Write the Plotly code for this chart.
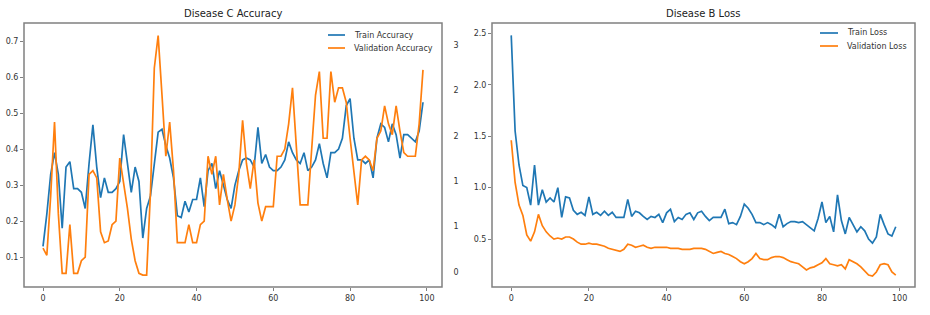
import plotly.graph_objects as go

epochs = list(range(100))

train_acc = [0.13, 0.22, 0.33, 0.39, 0.33, 0.18, 0.35, 0.365, 0.29, 0.29,
             0.28, 0.235, 0.36, 0.467, 0.35, 0.265, 0.32, 0.28, 0.28, 0.29,
             0.31, 0.44, 0.36, 0.28, 0.35, 0.31, 0.153, 0.235, 0.27, 0.36,
             0.447, 0.455, 0.41, 0.375, 0.32, 0.215, 0.21, 0.255, 0.225, 0.26,
             0.26, 0.32, 0.24, 0.34, 0.36, 0.29, 0.34, 0.30, 0.26, 0.235,
             0.30, 0.34, 0.37, 0.375, 0.37, 0.35, 0.46, 0.36, 0.385, 0.35,
             0.34, 0.34, 0.35, 0.37, 0.42, 0.39, 0.37, 0.36, 0.39, 0.34,
             0.35, 0.37, 0.415, 0.36, 0.32, 0.39, 0.39, 0.40, 0.43, 0.52,
             0.54, 0.43, 0.37, 0.37, 0.36, 0.37, 0.32, 0.43, 0.47, 0.46,
             0.42, 0.47, 0.44, 0.375, 0.44, 0.44, 0.43, 0.42, 0.45, 0.53]

val_acc = [0.125, 0.105, 0.27, 0.475, 0.22, 0.055, 0.055, 0.19, 0.055, 0.055,
           0.09, 0.10, 0.33, 0.34, 0.32, 0.17, 0.14, 0.145, 0.19, 0.20,
           0.375, 0.31, 0.235, 0.15, 0.09, 0.055, 0.05, 0.05, 0.28, 0.625,
           0.715, 0.55, 0.38, 0.475, 0.34, 0.14, 0.14, 0.14, 0.19, 0.14,
           0.14, 0.19, 0.20, 0.38, 0.33, 0.38, 0.245, 0.33, 0.26, 0.20,
           0.245, 0.33, 0.48, 0.36, 0.29, 0.37, 0.25, 0.20, 0.24, 0.24,
           0.24, 0.38, 0.38, 0.40, 0.47, 0.57, 0.42, 0.245, 0.245, 0.245,
           0.40, 0.55, 0.615, 0.43, 0.43, 0.615, 0.53, 0.57, 0.57, 0.53,
           0.43, 0.33, 0.245, 0.37, 0.38, 0.37, 0.34, 0.43, 0.45, 0.52,
           0.47, 0.44, 0.52, 0.45, 0.39, 0.38, 0.38, 0.38, 0.47, 0.62]

train_loss = [2.48, 1.55, 1.22, 1.02, 1.00, 0.83, 1.22, 0.83, 0.98, 0.86,
              0.90, 0.86, 1.00, 0.71, 0.91, 0.90, 0.78, 0.74, 0.76, 0.73,
              0.91, 0.74, 0.76, 0.73, 0.77, 0.73, 0.76, 0.71, 0.71, 0.71,
              0.886, 0.72, 0.77, 0.755, 0.72, 0.69, 0.72, 0.71, 0.74, 0.66,
              0.755, 0.79, 0.67, 0.71, 0.69, 0.74, 0.755, 0.69, 0.755, 0.77,
              0.72, 0.68, 0.71, 0.71, 0.71, 0.79, 0.65, 0.66, 0.64, 0.72,
              0.84, 0.80, 0.74, 0.66, 0.66, 0.64, 0.66, 0.64, 0.61, 0.74,
              0.62, 0.65, 0.67, 0.67, 0.66, 0.67, 0.64, 0.61, 0.58, 0.70,
              0.86, 0.66, 0.72, 0.57, 0.93, 0.68, 0.55, 0.71, 0.64, 0.57,
              0.62, 0.58, 0.50, 0.46, 0.52, 0.74, 0.64, 0.55, 0.53, 0.62]

val_loss = [1.46, 1.05, 0.83, 0.73, 0.54, 0.48, 0.57, 0.74, 0.63, 0.57,
            0.53, 0.50, 0.51, 0.50, 0.52, 0.52, 0.50, 0.47, 0.45, 0.45,
            0.46, 0.45, 0.45, 0.44, 0.43, 0.41, 0.40, 0.39, 0.38, 0.40,
            0.45, 0.44, 0.42, 0.43, 0.44, 0.42, 0.41, 0.42, 0.42, 0.42,
            0.42, 0.41, 0.41, 0.41, 0.40, 0.40, 0.40, 0.41, 0.41, 0.41,
            0.40, 0.38, 0.36, 0.37, 0.38, 0.36, 0.35, 0.33, 0.31, 0.28,
            0.26, 0.28, 0.31, 0.36, 0.31, 0.30, 0.30, 0.32, 0.33, 0.33,
            0.32, 0.30, 0.28, 0.27, 0.26, 0.23, 0.20, 0.22, 0.23, 0.25,
            0.27, 0.31, 0.26, 0.25, 0.24, 0.25, 0.21, 0.30, 0.28, 0.26,
            0.23, 0.19, 0.15, 0.14, 0.18, 0.25, 0.26, 0.25, 0.18, 0.15]

acc_ticks = [0.1, 0.2, 0.3, 0.4, 0.5, 0.6, 0.7]
loss_ticks = [0.5, 1.0, 1.5, 2.0, 2.5]
x_ticks = [0, 20, 40, 60, 80, 100]
odd_tick_vals = [3.0, 2.5, 2.0, 1.5, 1.0, 0.5]
odd_tick_text = ["3", "2", "2", "1", "1", "0"]

BLUE = "#1f77b4"
ORANGE = "#ff7f0e"
W, H = 930, 315
FRAME = "#808080"
TXT = "#333333"

def px_x(p):
    return p / W

def px_y(p):
    return 1 - p / H

fig = go.Figure()
lw = 1.7
fig.add_trace(go.Scatter(x=epochs, y=train_acc, mode="lines", name="Train Accuracy",
                         line=dict(color=BLUE, width=lw), xaxis="x", yaxis="y"))
fig.add_trace(go.Scatter(x=epochs, y=val_acc, mode="lines", name="Validation Accuracy",
                         line=dict(color=ORANGE, width=lw), xaxis="x", yaxis="y"))
fig.add_trace(go.Scatter(x=epochs, y=train_loss, mode="lines", name="Train Loss",
                         line=dict(color=BLUE, width=lw), xaxis="x2", yaxis="y2"))
fig.add_trace(go.Scatter(x=epochs, y=val_loss, mode="lines", name="Validation Loss",
                         line=dict(color=ORANGE, width=lw), xaxis="x2", yaxis="y2"))
fig.add_trace(go.Scatter(x=[None], y=[None], xaxis="x", yaxis="y3", showlegend=False, hoverinfo="skip"))

tickfont = dict(family="DejaVu Sans", size=8, color=TXT)
axis_common = dict(showline=False, ticks="outside", ticklen=3, tickcolor=FRAME,
                   showgrid=False, zeroline=False, tickfont=tickfont)

ydom = [px_y(287), px_y(23)]
left_box = (24, 442)
right_box = (492, 915)

legend_items = [
    ("Train Accuracy", BLUE, 328, 345, 352, 35),
    ("Validation Accuracy", ORANGE, 328, 345, 352, 48),
    ("Train Loss", BLUE, 820, 838, 845, 33),
    ("Validation Loss", ORANGE, 820, 838, 845, 46),
]
shapes = []
annotations = [
    dict(text="Disease C Accuracy", x=px_x(233), y=px_y(14), xref="paper", yref="paper",
         xanchor="center", yanchor="middle", showarrow=False,
         font=dict(family="DejaVu Sans", size=10, color="#222")),
    dict(text="Disease B Loss", x=px_x(703), y=px_y(14), xref="paper", yref="paper",
         xanchor="center", yanchor="middle", showarrow=False,
         font=dict(family="DejaVu Sans", size=10, color="#222")),
]
for label, col, lx0, lx1, tx, ty in legend_items:
    shapes.append(dict(type="line", xref="paper", yref="paper",
                       x0=px_x(lx0), x1=px_x(lx1), y0=px_y(ty), y1=px_y(ty),
                       line=dict(color=col, width=1.7)))
    annotations.append(dict(text=label, x=px_x(tx), y=px_y(ty), xref="paper", yref="paper",
                            xanchor="left", yanchor="middle", showarrow=False,
                            font=dict(family="DejaVu Sans", size=8, color=TXT)))
for bx0, bx1 in (left_box, right_box):
    shapes.append(dict(type="rect", xref="paper", yref="paper",
                       x0=px_x(bx0), x1=px_x(bx1), y0=px_y(287), y1=px_y(23),
                       line=dict(color=FRAME, width=1.5), fillcolor="rgba(0,0,0,0)",
                       layer="above"))

fig.update_layout(
    width=W, height=H, margin=dict(l=0, r=0, t=0, b=0),
    paper_bgcolor="white", plot_bgcolor="white",
    showlegend=False,
    xaxis=dict(domain=[px_x(left_box[0]), px_x(left_box[1])], range=[-4.95, 103.95],
               tickvals=x_ticks, anchor="y", **axis_common),
    yaxis=dict(domain=ydom, range=[0.017, 0.75], tickvals=acc_ticks,
               tickformat=".1f", anchor="x", **axis_common),
    yaxis3=dict(overlaying="y", side="right", anchor="x", range=[0.335, 3.24],
                tickvals=odd_tick_vals, ticktext=odd_tick_text, showgrid=False,
                zeroline=False, showline=False, ticks="outside", ticklen=9,
                tickcolor="rgba(0,0,0,0)", tickfont=tickfont),
    xaxis2=dict(domain=[px_x(right_box[0]), px_x(right_box[1])], range=[-4.95, 103.95],
                tickvals=x_ticks, anchor="y2", **axis_common),
    yaxis2=dict(domain=ydom, range=[0.034, 2.6], tickvals=loss_ticks,
                tickformat=".1f", anchor="x2", **axis_common),
    shapes=shapes,
    annotations=annotations,
)

fig.write_html("out.html", config={"displayModeBar": False},
               post_script="document.body.style.margin='0';document.body.style.overflow='hidden';")
